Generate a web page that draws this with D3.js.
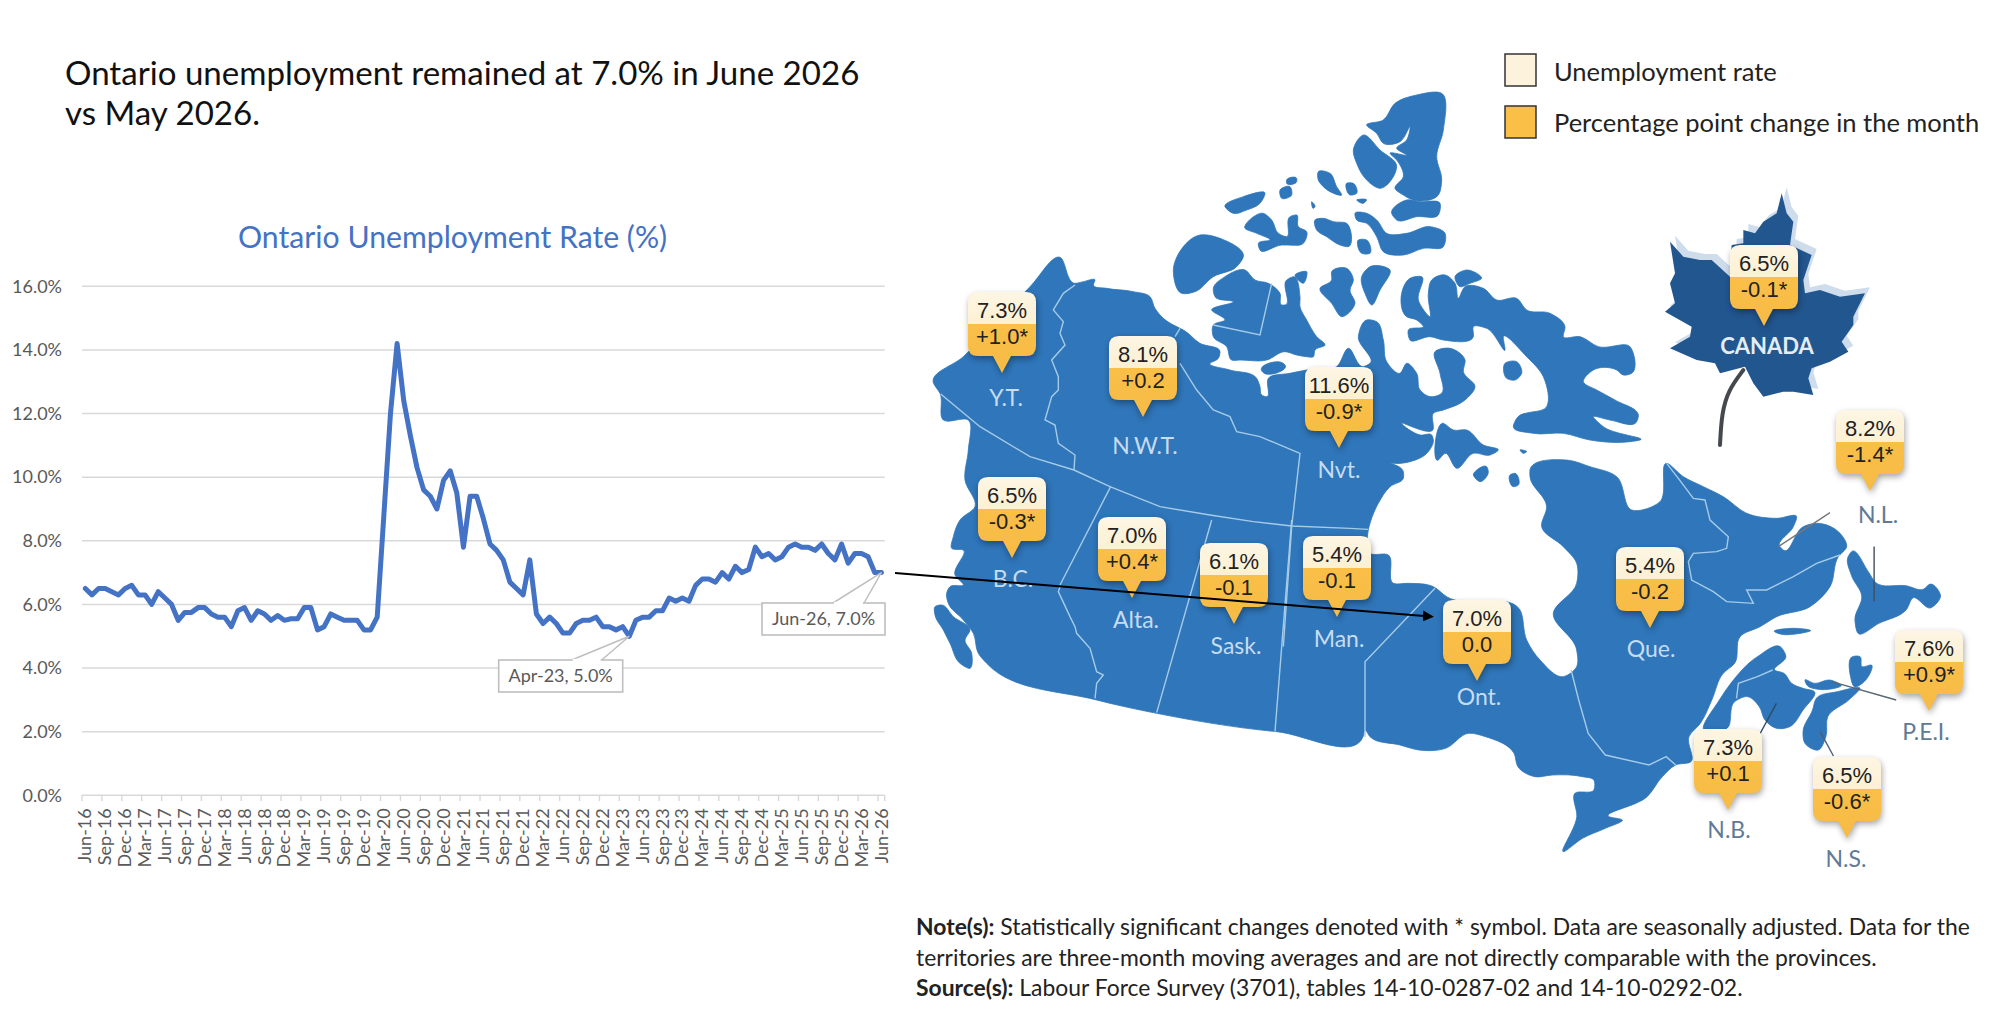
<!DOCTYPE html>
<html><head><meta charset="utf-8">
<script src="https://cdn.jsdelivr.net/npm/d3@7"></script>
<style>html,body{margin:0;padding:0;background:#fff}svg{display:block}</style></head>
<body><svg id="c" width="1997" height="1016" viewBox="0 0 1997 1016"></svg>
<script>
// ---------- chart data ----------
const monthNames = ["Jan","Feb","Mar","Apr","May","Jun","Jul","Aug","Sep","Oct","Nov","Dec"];
const startYear = 16, startMonth = 5;
const rateOntario = [
6.5,6.3,6.5,6.5,6.4,6.3,6.5,6.6,6.3,6.3,6.0,6.4,6.2,6.0,5.5,5.75,5.75,5.9,5.9,5.7,5.6,5.6,5.3,5.8,5.9,5.5,5.8,5.7,5.5,5.65,5.5,5.55,5.55,5.9,5.9,5.2,5.3,5.7,5.6,5.5,5.5,5.5,5.2,5.2,5.6,
8.8,12.0,14.2,12.4,11.3,10.3,9.6,9.4,9.0,9.9,10.2,9.5,7.8,9.4,9.4,8.7,7.9,7.7,7.4,6.7,6.5,6.3,7.4,5.7,5.4,5.6,5.4,5.1,5.1,5.4,5.5,5.5,5.6,5.3,5.3,5.2,5.3,5.0,
5.5,5.6,5.6,5.8,5.8,6.2,6.1,6.2,6.1,6.6,6.8,6.8,6.7,7.0,6.8,7.2,7.0,7.1,7.8,7.5,7.6,7.4,7.5,7.8,7.9,7.8,7.8,7.7,7.9,7.6,7.4,7.9,7.3,7.6,7.6,7.5,7.0,7.0];
const yTicks = [0,2,4,6,8,10,12,14,16];
const calloutMonths = ["Apr-23","Jun-26"];
const months = rateOntario.map((_,i)=>{const m=startMonth+i;return monthNames[m%12]+"-"+(startYear+Math.floor(m/12));});
const titleLines = ["Ontario unemployment remained at 7.0% in June 2026","vs May 2026."];
const chartTitle = "Ontario Unemployment Rate (%)";
// ---------- map data ----------
const regionNames = ["Y.T.","N.W.T.","Nvt.","B.C.","Alta.","Sask.","Man.","Ont.","Que.","N.L.","P.E.I.","N.B.","N.S.","CANADA"];
const regionRates = ["7.3%","8.1%","11.6%","6.5%","7.0%","6.1%","5.4%","7.0%","5.4%","8.2%","7.6%","7.3%","6.5%","6.5%"];
const regionChanges = ["+1.0*","+0.2","-0.9*","-0.3*","+0.4*","-0.1","-0.1","0.0","-0.2","-1.4*","+0.9*","+0.1","-0.6*","-0.1*"];
const legendLabels = ["Unemployment rate","Percentage point change in the month"];
const noteLines = [
 [["Note(s):",1],[" Statistically significant changes denoted with * symbol. Data are seasonally adjusted. Data for the",0]],
 [["territories are three-month moving averages and are not directly comparable with the provinces.",0]],
 [["Source(s):",1],[" Labour Force Survey (3701), tables 14-10-0287-02 and 14-10-0292-02.",0]]];

// ---------- map layout ----------
const bubbleCx  = [1002,1143,1339,1012,1132,1234,1337,1477,1650,1870,1929,1728,1847,1764];
const bubbleTop = [292,336,367,477,517,543,536,600,547,410,630,729,757,245];
const labelX = [1006,1145,1339,1013,1136,1236,1339,1479,1651,1878,1926,1729,1846];
const labelY = [406,454,478,587,628,654,647,705,657,523,740,838,867];
const F6=[1150,80,3,3],F7=[920,250,3,3],F8=[920,520,3,3],F9=[1350,420,3,3],F10=[1400,620,2.63,3],F11=[1640,170,3,3],F5=[920,480,1.46,2.93];
const seg=(f,p)=>p.map(([x,y])=>[f[0]+x/f[2],f[1]+y/f[3]]);
const mainland=[].concat(
 seg(F7,[[40,398],[130,320],[330,110],[420,22],[465,100],[490,95],[525,90],[520,105],[560,115],[640,125],[690,140],[705,175],[730,205],[780,235]]),
 seg(F6,[[100,750],[150,790],[210,815],[205,835],[180,850],[240,870],[320,895],[330,920],[335,945],[350,950],[355,895],[420,880],[470,870],[560,860],[595,805],[640,860],[660,850],[625,770],[650,720],[680,725],[700,780],[710,845],[750,880],[770,850],[800,880],[810,930],[840,950],[875,940],[870,880],[855,815],[900,805],[945,840],[940,875],[975,920],[945,960],[880,990],[850,1000],[850,1040]]),
 seg(F9,[[250,25],[155,10],[210,45],[245,45],[250,60],[235,95],[180,125],[130,130],[85,120],[160,155],[160,175],[120,200],[85,250],[60,310],[55,330],[60,400],[115,405],[130,490],[175,490],[250,500],[290,530],[510,570],[530,660],[570,720],[640,770],[680,740],[680,690],[610,580],[680,490],[680,430],[640,380],[575,320],[590,260],[540,170],[540,150],[650,120],[720,140],[800,170],[845,270],[930,245],[950,130],[1000,170],[1060,200],[1120,230],[1190,280],[1280,295],[1340,290],[1330,320],[1290,380],[1300,390],[1360,320],[1400,310],[1470,340],[1490,380],[1465,410],[1440,500],[1380,560],[1280,590],[1230,620],[1170,650]]),
 seg(F10,[[880,130],[850,160],[820,240],[790,310],[760,350],[765,425],[725,435],[690,470],[650,530],[550,590],[585,600],[540,625],[480,655],[430,695],[465,590],[460,520],[510,510],[510,480],[480,470],[400,465],[355,470],[310,440],[300,400],[225,350],[180,340],[120,385],[50,390],[0,375]]),
 seg(F8,[[1350,650],[1335,630],[1330,648],[1070,635],[710,580],[530,540],[200,430],[175,400],[160,340],[130,300],[85,250],[80,220],[90,200],[130,195],[105,165],[130,90],[95,85],[100,50],[120,0]]),
 seg(F7,[[165,770],[135,690],[145,600],[145,510],[70,510],[60,430]])
);
const islands=[
 seg(F8,[[45,260],[65,255],[100,290],[150,330],[135,360],[155,400],[150,445],[120,430],[90,370],[70,330],[45,285]]),
 seg(F6,[[70,572],[150,465],[210,475],[280,530],[260,560],[190,590],[135,635],[95,640]]),
 seg(F6,[[190,625],[225,590],[285,570],[315,600],[355,610],[390,640],[395,675],[405,675],[410,600],[430,590],[450,650],[450,680],[470,720],[500,770],[525,795],[495,810],[490,830],[470,830],[440,825],[405,815],[350,840],[270,840],[245,840],[230,800],[190,770],[190,735],[225,720],[185,690],[250,665],[195,650]]),
 seg(F6,[[435,585],[470,575],[460,610]]),
 seg(F6,[[335,872],[400,850],[405,855],[340,878]]),
 seg(F6,[[510,625],[545,600],[545,575],[590,565],[610,600],[600,630],[615,670],[575,710],[545,670]]),
 seg(F6,[[635,590],[660,560],[720,570],[690,630],[665,675],[645,640]]),
 seg(F6,[[755,640],[780,595],[815,590],[805,660],[840,710],[835,640],[845,600],[885,585],[915,610],[925,655],[945,620],[1000,625],[1040,660],[1100,655],[1130,690],[1200,700],[1245,740],[1240,770],[1290,770],[1345,800],[1440,800],[1445,880],[1420,885],[1400,870],[1330,870],[1300,905],[1340,930],[1395,960],[1465,1010],[1460,1025],[1380,1020],[1330,1010],[1360,1040],[1470,1080],[1440,1085],[1320,1080],[1240,1060],[1150,1060],[1090,1040],[1100,1015],[1190,980],[1180,890],[1130,830],[1060,770],[1065,810],[1010,745],[970,740],[970,770],[880,780],[840,770],[780,780],[775,750],[820,740],[800,720],[770,710]]),
 seg(F6,[[1065,850],[1100,845],[1115,880],[1095,900],[1070,895]]),
 seg(F6,[[915,590],[950,570],[995,595],[960,610],[930,620]]),
 seg(F9,[[280,10],[310,30],[350,30],[400,75],[445,90],[420,105],[370,100],[320,145],[285,100],[265,120]]),
 seg(F9,[[370,165],[410,140],[415,155],[390,185]]),
 seg(F9,[[480,165],[495,160],[505,195],[490,200]]),
 seg(F9,[[510,90],[530,95],[520,100]]),
 seg(F6,[[650,135],[700,120],[735,70],[800,45],[875,40],[880,150],[860,230],[875,300],[865,345],[790,360],[760,345],[735,325],[760,290],[740,240],[720,220],[770,225],[740,205],[770,180],[780,140],[750,185],[700,190],[680,160]]),
 seg(F6,[[610,210],[640,165],[690,210],[740,260],[735,280],[690,325],[650,300],[620,250]]),
 seg(F6,[[725,400],[770,360],[810,365],[870,370],[865,405],[800,410],[740,420]]),
 seg(F6,[[615,400],[650,400],[680,420],[710,460],[770,460],[840,440],[885,460],[880,500],[820,505],[760,525],[700,515],[680,470],[650,430],[620,420]]),
 seg(F6,[[505,275],[540,280],[560,320],[575,345],[540,335],[520,320],[505,300]]),
 seg(F6,[[590,310],[610,310],[620,340],[600,345]]),
 seg(F6,[[620,360],[650,360],[640,370]]),
 seg(F6,[[625,480],[650,480],[660,520],[635,520]]),
 seg(F6,[[225,380],[280,350],[345,340],[330,370],[290,390],[250,400]]),
 seg(F6,[[390,330],[420,320],[425,345],[395,355]]),
 seg(F6,[[410,300],[440,295],[440,305],[410,310]]),
 seg(F6,[[285,445],[340,400],[365,420],[385,460],[410,470],[420,410],[440,405],[445,440],[470,455],[460,490],[410,495],[395,495],[330,510],[325,490],[360,480],[320,460]]),
 seg(F6,[[495,420],[520,415],[550,425],[590,430],[595,500],[570,495],[530,470],[500,450]]),
 seg(F6,[[485,365],[495,380],[490,385]]),
 seg(F10,[[800,330],[840,240],[870,190],[940,110],[1000,80],[1015,110],[985,150],[1010,160],[1030,190],[1060,205],[1090,215],[1060,270],[1025,320],[990,325],[960,300],[945,260],[915,230],[880,245],[860,325]]),
 seg(F10,[[1065,370],[1060,335],[1085,270],[1095,235],[1150,215],[1210,205],[1180,240],[1125,290],[1120,350],[1100,390]]),
 seg(F10,[[1185,170],[1190,110],[1210,110],[1215,140],[1240,135],[1225,180],[1195,200]]),
 seg(F10,[[1065,180],[1090,190],[1130,180],[1160,195],[1100,208],[1070,195]]),
 seg(F10,[[985,35],[1030,25],[1080,32],[1040,42],[1000,42]]),
 seg(F5,[[1355,225],[1360,210],[1385,270],[1395,300],[1440,310],[1465,320],[1475,305],[1490,340],[1475,375],[1450,345],[1440,380],[1400,420],[1370,450],[1365,410],[1375,340],[1360,280]])
];
const borders=[
 seg(F7,[[465,105],[430,130],[400,180],[430,215],[420,250],[435,285],[395,330],[415,380],[415,420],[395,440],[375,510],[405,525],[415,580],[465,615],[462,660]]),
 seg(F7,[[62,432],[180,530],[330,620],[462,660],[570,710],[720,770],[870,795],[1000,815],[1115,828],[1290,835],[1345,838]]),
 seg(F7,[[780,235],[765,260]]),
 seg(F7,[[780,340],[830,420],[880,480],[930,500],[950,545],[1020,560],[1140,610],[1115,830],[1090,1190]]),
 seg(F8,[[1115,0],[1065,635]]),
 seg(F7,[[572,710],[420,1005]]),
 seg(F8,[[420,200],[415,215],[450,290],[465,320],[470,340],[510,385],[530,455],[550,465],[530,490],[525,535]]),
 seg(F8,[[875,0],[710,578]]),
 seg(F9,[[255,505],[45,725],[45,900]]),
 seg(F8,[[1335,600],[1335,650]]),
 seg(F6,[[365,610],[330,765],[190,735]]),
 seg(F10,[[450,150],[470,240],[495,340],[540,405],[655,435],[700,410],[725,435]]),
 seg(F9,[[950,130],[985,175],[1030,235],[1065,240],[1080,300],[1135,350],[1130,385],[1100,395],[1030,400],[1015,425],[1025,480],[1090,515],[1130,545],[1210,550],[1190,510],[1250,510],[1330,470],[1400,430],[1470,405]]),
 seg(F10,[[885,235],[890,190],[940,170],[980,150]])
];
const leaf=seg(F11,[[425,70],[440,130],[460,155],[450,225],[515,255],[490,330],[495,370],[540,360],[600,380],[675,370],[640,440],[640,465],[605,515],[625,545],[570,575],[515,595],[505,625],[520,675],[460,665],[430,665],[370,680],[340,640],[315,590],[240,610],[225,580],[170,570],[90,535],[150,500],[155,470],[75,425],[105,400],[90,340],[105,310],[90,215],[130,260],[180,270],[215,270],[270,320],[275,225],[310,220],[310,180],[345,190],[370,155],[410,130]]);
const stem=seg(F11,[[310,600],[265,660],[245,730],[240,825]]);
const leaders=[
 {p:seg(F9,[[1285,380],[1440,278]]),c:"#777"},
 {p:seg(F5,[[1393,195],[1393,355]]),c:"#3f4f60"},
 {p:seg(F10,[[945,345],[990,250]]),c:"#2f4a68"},
 {p:seg(F10,[[1105,335],[1140,408]]),c:"#4d6175"},
 {p:seg(F10,[[1135,185],[1305,240]]),c:"#5a6672"}];
const arrowLine=[[895,573],[1424,616]];

// ---------- drawing ----------
const svg=d3.select("#c");
const defs=svg.append("defs");
const lineGen=d3.line();
const landGen=d3.line().curve(d3.curveCatmullRomClosed.alpha(1));
const LATO="Lato, 'Open Sans', sans-serif";

// headline
svg.append("g").selectAll("text").data(titleLines).join("text")
 .attr("x",65).attr("y",(d,i)=>85+i*40).text(d=>d)
 .attr("font-family",LATO).attr("font-size",33.1).attr("fill","#111");
svg.append("text").attr("x",238).attr("y",248).text(chartTitle)
 .attr("font-family",LATO).attr("font-size",30.2).attr("fill","#4472c4");

// chart
const x=d3.scaleBand().domain(months).range([82,884.7]).padding(0);
const y=d3.scaleLinear().domain([0,16]).range([795.3,286.3]);
const cx=m=>x(m)+x.bandwidth()/2;
const g=svg.append("g");
const yAxis=g.append("g").attr("transform","translate(82,0)")
 .call(d3.axisLeft(y).tickValues(yTicks).tickFormat(d=>d3.format(".1f")(d)+"%").tickSize(0).tickPadding(20));
yAxis.select(".domain").remove();
yAxis.selectAll("text").attr("font-family",LATO).attr("font-size",18).attr("fill","#595959");
g.append("g").selectAll("line").data(yTicks).join("line")
 .attr("x1",82).attr("x2",884.7).attr("y1",d=>y(d)).attr("y2",d=>y(d))
 .attr("stroke","#d9d9d9").attr("stroke-width",1.6);
const every3=months.filter((m,i)=>i%3===0);
g.append("g").selectAll("line").data(every3.concat([null])).join("line")
 .attr("x1",d=>d?x(d):884.7).attr("x2",d=>d?x(d):884.7).attr("y1",795.3).attr("y2",801)
 .attr("stroke","#d9d9d9").attr("stroke-width",1.4);
const xAxis=g.append("g").attr("transform","translate(0,795.3)")
 .call(d3.axisBottom(x).tickValues(every3).tickSize(0).tickPadding(0));
xAxis.select(".domain").remove();
xAxis.selectAll("text").attr("font-family",LATO).attr("font-size",18).attr("fill","#595959")
 .attr("text-anchor","end").attr("dy","0.34em").attr("dx",0)
 .attr("transform","translate(0,13) rotate(-90)").attr("y",0).attr("x",0);
g.append("path").datum(rateOntario)
 .attr("d",d3.line().x((d,i)=>cx(months[i])).y(d=>y(d)))
 .attr("fill","none").attr("stroke","#4472c4").attr("stroke-width",5)
 .attr("stroke-linejoin","round").attr("stroke-linecap","round");

// callouts
const calloutBoxes=[{x:498.7,y:660,w:124,h:32,a:73,b:103},{x:762,y:603,w:123,h:32,a:71,b:102}];
calloutMonths.forEach((m,i)=>{
 const b=calloutBoxes[i],px=cx(m),py=y(rateOntario[months.indexOf(m)]);
 const fmt=m+", "+d3.format(".1f")(rateOntario[months.indexOf(m)])+"%";
 g.append("path").attr("d",lineGen([[b.x+b.a,b.y],[px,py],[b.x+b.b,b.y]]))
  .attr("fill","#fff").attr("stroke","#bfbfbf").attr("stroke-width",1.5);
 g.append("rect").attr("x",b.x).attr("y",b.y).attr("width",b.w).attr("height",b.h)
  .attr("fill","#fff").attr("stroke","#bfbfbf").attr("stroke-width",1.6);
 g.append("path").attr("d",lineGen([[b.x+b.a+1,b.y],[b.x+b.b-1,b.y]])).attr("stroke","#fff").attr("stroke-width",2.4);
 g.append("text").attr("x",b.x+b.w/2).attr("y",b.y+22).attr("text-anchor","middle").text(fmt)
  .attr("font-family",LATO).attr("font-size",18).attr("fill","#595959");
});

// map
const mapG=svg.append("g");
const MAP="#2f76ba";
mapG.selectAll("path.land").data([mainland].concat(islands)).join("path").attr("class","land")
 .attr("d",d=>landGen(d)).attr("fill",MAP).attr("stroke",MAP).attr("stroke-width",0.8).attr("stroke-linejoin","round");
mapG.selectAll("path.border").data(borders).join("path").attr("class","border")
 .attr("d",d=>lineGen(d)).attr("fill","none").attr("stroke","#a6cbe8").attr("stroke-width",1.4);
// leaf
const leafG=svg.append("g");
leafG.append("path").attr("d",lineGen(leaf)+"Z").attr("fill","#cfdcec").attr("transform","translate(5,-6)");
leafG.append("path").attr("d",d3.line().curve(d3.curveBasis)(stem)).attr("fill","none").attr("stroke","#45484d").attr("stroke-width",4).attr("stroke-linecap","round");
leafG.append("path").attr("d",lineGen(leaf)+"Z").attr("fill","#22568f");
// leader lines
svg.append("g").selectAll("path").data(leaders).join("path").attr("d",d=>lineGen(d.p)).attr("stroke",d=>d.c).attr("stroke-width",1.4).attr("fill","none");

// region labels
const lab=svg.append("g");
regionNames.slice(0,13).forEach((n,i)=>{
 const outside=i>=9;
 lab.append("text").attr("x",labelX[i]).attr("y",labelY[i]).attr("text-anchor","middle").text(n)
  .attr("font-family",LATO).attr("font-size",23).attr("fill",outside?"#5f7a96":"#c6dcf0");
});
lab.append("text").attr("x",1767).attr("y",354).attr("text-anchor","middle").text("CANADA")
 .attr("font-family",LATO).attr("font-size",22).attr("font-weight",700).attr("fill","#e4edf6");

// bubbles
const grad=defs.append("linearGradient").attr("id","bub").attr("x1",0).attr("x2",0).attr("y1",0).attr("y2",1);
[[0,"#fdf6e4"],[0.4,"#fdf0d2"],[0.4,"#f9bf47"],[1,"#f7bb45"]].forEach(s=>grad.append("stop").attr("offset",s[0]).attr("stop-color",s[1]));
const bubW=68,bubH=64,tail=17,r=10;
const bubPath=(c,t)=>{
 const l=c-bubW/2,R=c+bubW/2,b=t+bubH;
 const p=d3.path();
 p.moveTo(l+r,t);p.lineTo(R-r,t);p.quadraticCurveTo(R,t,R,t+r);p.lineTo(R,b-r);p.quadraticCurveTo(R,b,R-r,b);
 p.lineTo(c+9,b);p.lineTo(c,b+tail);p.lineTo(c-9,b);p.lineTo(l+r,b);p.quadraticCurveTo(l,b,l,b-r);p.lineTo(l,t+r);p.quadraticCurveTo(l,t,l+r,t);p.closePath();
 return p.toString();
};
const bub=svg.append("g").selectAll("g").data(regionNames).join("g");
bub.append("path").attr("d",(d,i)=>bubPath(bubbleCx[i],bubbleTop[i])).attr("fill","url(#bub)")
 .style("filter","drop-shadow(1px 3px 3px rgba(0,0,0,.35))");
bub.append("text").attr("x",(d,i)=>bubbleCx[i]).attr("y",(d,i)=>bubbleTop[i]+26).attr("text-anchor","middle")
 .text((d,i)=>regionRates[i]).attr("font-family","'Liberation Sans',Arial,sans-serif").attr("font-size",22).attr("fill","#222");
bub.append("text").attr("x",(d,i)=>bubbleCx[i]).attr("y",(d,i)=>bubbleTop[i]+52).attr("text-anchor","middle")
 .text((d,i)=>regionChanges[i]).attr("font-family","'Liberation Sans',Arial,sans-serif").attr("font-size",22).attr("fill","#222");

// legend
const legCols=["#fdf3dc","#f9bf47"],legY=[54,106],legTxt=[81,132];
const leg=svg.append("g");
legendLabels.forEach((t,i)=>{
 leg.append("rect").attr("x",1505).attr("y",legY[i]).attr("width",31).attr("height",32).attr("fill",legCols[i]).attr("stroke","#333").attr("stroke-width",1.5);
 leg.append("text").attr("x",1554).attr("y",legTxt[i]).text(t).attr("font-family",LATO).attr("font-size",25.5).attr("fill","#222");
});

// arrow (over the bubbles)
defs.append("marker").attr("id","ah").attr("viewBox","0 0 10 10").attr("refX",1).attr("refY",5).attr("markerWidth",11).attr("markerHeight",11).attr("markerUnits","userSpaceOnUse").attr("orient","auto")
 .append("path").attr("d","M0,0L10,5L0,10Z").attr("fill","#000");
svg.append("path").attr("d",lineGen(arrowLine)).attr("stroke","#000").attr("stroke-width",2).attr("fill","none").attr("marker-end","url(#ah)");

// notes
const noteBase=[935,966,996];
noteLines.forEach((runs,i)=>{
 const t=svg.append("text").attr("x",916).attr("y",noteBase[i]).attr("font-family",LATO).attr("font-size",22.9).attr("fill","#222");
 runs.forEach(r=>t.append("tspan").text(r[0]).attr("font-weight",r[1]?700:400));
});
</script></body></html>
